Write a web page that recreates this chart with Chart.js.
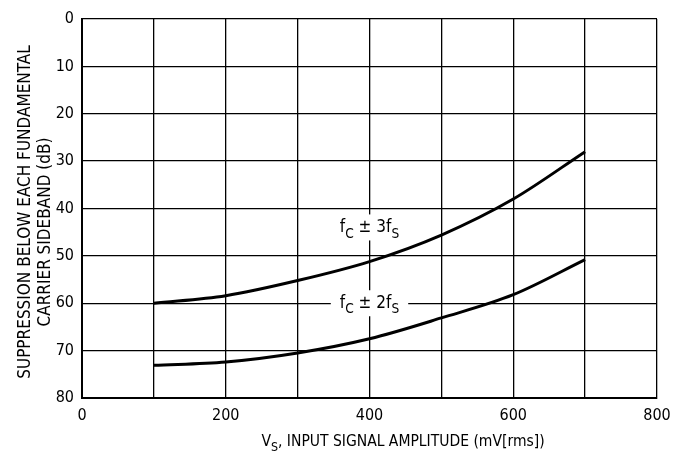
<!DOCTYPE html>
<html>
<head>
<meta charset="utf-8">
<script src="https://cdn.jsdelivr.net/npm/chart.js@4.4.1/dist/chart.umd.min.js"></script>
<style>
  html, body { margin: 0; padding: 0; background: #fff; }
  #wrap { width: 685px; height: 459px; position: relative; }
</style>
</head>
<body>
<div id="wrap"><canvas id="chart"></canvas></div>
<script>
// values
const vsValues = [100, 200, 300, 400, 500, 600, 700];
const sideband3 = [60, 58.4, 55.2, 51.2, 45.6, 38.0, 28.0];
const sideband2 = [73.1, 72.4, 70.5, 67.5, 63.1, 58.2, 50.8];
const xTickLabels = [0, 200, 400, 600, 800];
const yTicks = [0, 10, 20, 30, 40, 50, 60, 70, 80];

const FONT = '"DejaVu Sans Condensed", "Liberation Sans Narrow", "Liberation Sans", sans-serif';

function toPoints(xs, ys) {
  return xs.map((x, i) => ({ x: x, y: ys[i] }));
}

// draw text made of normal + subscript parts
function richText(ctx, parts, x, y, size, align) {
  ctx.save();
  ctx.textBaseline = 'alphabetic';
  ctx.textAlign = 'left';
  let total = 0;
  parts.forEach(p => {
    ctx.font = (p.sub ? size * 0.8 : size) + 'px ' + FONT;
    p.w = ctx.measureText(p.t).width;
    total += p.w;
  });
  let cx = align === 'center' ? x - total / 2 : x;
  parts.forEach(p => {
    ctx.font = (p.sub ? size * 0.8 : size) + 'px ' + FONT;
    ctx.fillText(p.t, cx, p.sub ? y + size * 0.3 : y);
    cx += p.w;
  });
  ctx.restore();
  return total;
}

const annotations = {
  id: 'annotations',
  afterDatasetsDraw(chart) {
    const ctx = chart.ctx;
    const xs = chart.scales.x, ys = chart.scales.y;
    ctx.fillStyle = '#000';

    const labels = [
      { x: 400, y: 44, parts: [{ t: 'f' }, { t: 'C', sub: true }, { t: ' \u00b1 3f' }, { t: 'S', sub: true }] },
      { x: 400, y: 60, parts: [{ t: 'f' }, { t: 'C', sub: true }, { t: ' \u00b1 2f' }, { t: 'S', sub: true }] },
    ];
    labels.forEach(l => {
      const px = xs.getPixelForValue(l.x), py = ys.getPixelForValue(l.y);
      ctx.save();
      ctx.font = '17px ' + FONT;
      const w = ctx.measureText('fC \u00b1 3fS').width;
      ctx.fillStyle = '#fff';
      ctx.fillRect(px - w / 2 - 7, py - 13, w + 14, 26);
      ctx.restore();
      ctx.fillStyle = '#000';
      richText(ctx, l.parts, px, py + 5, 17, 'center');
    });

    // x axis title
    richText(ctx, [{ t: 'V' }, { t: 'S', sub: true }, { t: ', INPUT SIGNAL AMPLITUDE (mV[rms])' }], 403, 446, 15.5, 'center');

    // y axis title, two rotated lines
    ctx.save();
    ctx.rotate(-Math.PI / 2);
    ctx.font = '17px ' + FONT;
    ctx.textAlign = 'center';
    ctx.fillStyle = '#000';
    ctx.fillText('SUPPRESSION BELOW EACH FUNDAMENTAL', -212, 30);
    ctx.fillText('CARRIER SIDEBAND (dB)', -232, 50);
    ctx.restore();
  }
};

new Chart(document.getElementById('chart'), {
  type: 'line',
  data: {
    datasets: [
      {
        label: 'fC ± 3fS',
        data: toPoints(vsValues, sideband3),
        borderColor: '#000',
        borderWidth: 3,
        pointRadius: 0,
        cubicInterpolationMode: 'monotone',
        fill: false,
      },
      {
        label: 'fC ± 2fS',
        data: toPoints(vsValues, sideband2),
        borderColor: '#000',
        borderWidth: 3,
        pointRadius: 0,
        cubicInterpolationMode: 'monotone',
        fill: false,
      },
    ],
  },
  options: {
    responsive: true,
    maintainAspectRatio: false,
    animation: false,
    events: [],
    layout: {
      padding: { top: 19, right: 28, left: 0, bottom: 0 },
    },
    plugins: {
      legend: { display: false },
      tooltip: { enabled: false },
    },
    scales: {
      x: {
        type: 'linear',
        min: 0,
        max: 800,
        afterFit(scale) { scale.height = 61; },
        grid: {
          color: '#000',
          lineWidth: 1.3,
          drawTicks: false,
        },
        border: { color: '#000', width: 2 },
        ticks: {
          stepSize: 100,
          padding: 8,
          color: '#000',
          font: { family: FONT, size: 16 },
          maxRotation: 0,
          callback: v => (xTickLabels.includes(v) ? String(v) : ''),
        },
      },
      y: {
        type: 'linear',
        reverse: true,
        min: 0,
        max: 80,
        afterFit(scale) { scale.width = 82; },
        grid: {
          color: '#000',
          lineWidth: 1.3,
          drawTicks: false,
        },
        border: { color: '#000', width: 2 },
        ticks: {
          stepSize: 10,
          padding: 8,
          color: '#000',
          font: { family: FONT, size: 16 },
          callback: v => (yTicks.includes(v) ? String(v) : ''),
        },
      },
    },
  },
  plugins: [annotations],
});
</script>
</body>
</html>
